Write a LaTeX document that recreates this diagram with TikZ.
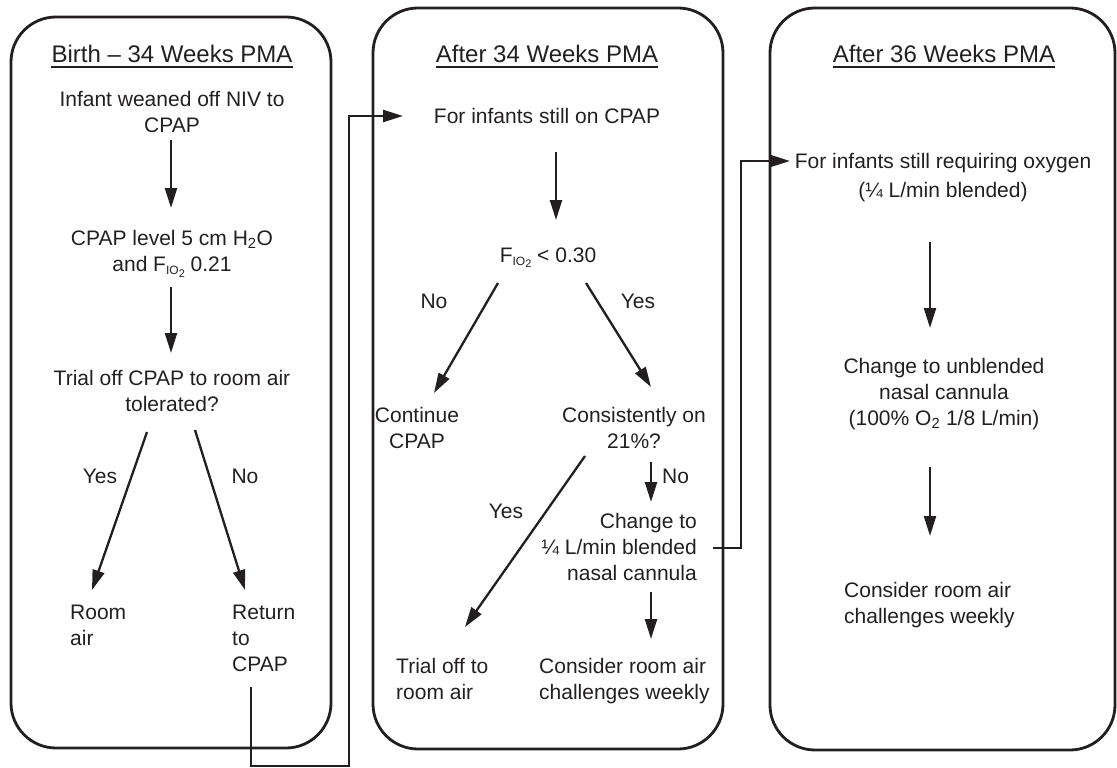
\documentclass[tikz,border=0pt]{standalone}
\usepackage{fontspec}
\setmainfont{Liberation Sans}
\usetikzlibrary{arrows.meta}
\definecolor{ink}{RGB}{35,31,32}
\newcommand\fio{F\raisebox{-0.3ex}{\fontsize{12}{12}\selectfont IO\raisebox{-0.4ex}{\fontsize{11}{11}\selectfont 2}}}
\begin{document}
\begin{tikzpicture}[x=1pt, y=-1pt,
  every node/.style={inner sep=0pt, text=ink},
  body/.style={font=\fontsize{21}{26}\selectfont},
  head/.style={font=\fontsize{24}{28}\selectfont},
  panel/.style={draw=ink, line width=2.8pt, rounded corners=45pt},
  arr/.style={draw=ink, line width=2.3pt, -{Triangle[length=20pt,width=12pt]}},
  uline/.style={draw=ink, line width=1.7pt}]
\useasboundingbox (0,0) rectangle (1117,768);
% panels
\draw[panel] (11,17) rectangle (331,748);
\draw[panel] (373,8) rectangle (723,749);
\draw[panel] (770,8) rectangle (1115,750);
% headings
\node[head, anchor=base] (h1) at (172,63) {Birth – 34 Weeks PMA};
\node[head, anchor=base] (h2) at (547,63) {After 34 Weeks PMA};
\node[head, anchor=base] (h3) at (944,63) {After 36 Weeks PMA};
\foreach \h in {h1,h2,h3}
  \draw[uline] ([yshift=-4pt]\h.base west) -- ([yshift=-4pt]\h.base east);
% panel 1
\node[body, anchor=north, align=center] (n1) at (172,91) {Infant weaned off NIV to\\CPAP};
\node[body, anchor=north, align=center] (n2) at (172,230) {CPAP level 5 cm H\textsubscript{2}O\\and \fio{} 0.21};
\node[body, anchor=north, align=center] (n3) at (172,370) {Trial off CPAP to room air\\tolerated?};
\node[body, anchor=north west, align=left] (n4) at (70,605) {Room\\air};
\node[body, anchor=north west, align=left] (n5) at (232,605) {Return\\to\\CPAP};
\node[body, anchor=base] (l1) at (100,483) {Yes};
\node[body, anchor=base] (l2) at (245,483) {No};
\coordinate (a1s) at (171,140); \coordinate (a1e) at (171,208);
\coordinate (a2s) at (171,287); \coordinate (a2e) at (171,353);
\coordinate (a3s) at (147,432); \coordinate (a3e) at (92,590);
\coordinate (a4s) at (195,430); \coordinate (a4e) at (245,590);
\draw[arr] (a1s) -- (a1e);
\draw[arr] (a2s) -- (a2e);
\draw[arr] (a3s) -- (a3e);
\draw[arr] (a4s) -- (a4e);
% panel 2
\node[body, anchor=north] (m1) at (547,108) {For infants still on CPAP};
\node[body, anchor=base] (m2) at (548,262) {\fio{} < 0.30};
\node[body, anchor=base] (l3) at (434,308) {No};
\node[body, anchor=base] (l4) at (638,308) {Yes};
\node[body, anchor=north, align=center] (m3) at (417,407) {Continue\\CPAP};
\node[body, anchor=north, align=center] (m4) at (634,407) {Consistently on\\21\%?};
\node[body, anchor=base west] (l5) at (662,483) {No};
\node[body, anchor=base] (l6) at (506,518) {Yes};
\node[body, anchor=north east, align=right] (m5) at (697,513) {Change to\\¼ L/min blended\\nasal cannula};
\node[body, anchor=north west, align=left] (m6) at (396,658) {Trial off to\\room air};
\node[body, anchor=north west, align=left] (m7) at (539,658) {Consider room air\\challenges weekly};
\coordinate (b1s) at (556,152); \coordinate (b1e) at (556,220);
\coordinate (b2s) at (498,283); \coordinate (b2e) at (434,393);
\coordinate (b3s) at (586,283); \coordinate (b3e) at (651,387);
\coordinate (b4s) at (585,456); \coordinate (b4e) at (465,627);
\coordinate (b5s) at (651,462); \coordinate (b5e) at (651,502);
\coordinate (b6s) at (651,592); \coordinate (b6e) at (651,639);
\draw[arr] (b1s) -- (b1e);
\draw[arr] (b2s) -- (b2e);
\draw[arr] (b3s) -- (b3e);
\draw[arr] (b4s) -- (b4e);
\draw[arr] (b5s) -- (b5e);
\draw[arr] (b6s) -- (b6e);
% panel 3
\node[body, font=\fontsize{21}{29}\selectfont, anchor=north, align=center] (r1) at (943,153) {For infants still requiring oxygen\\(¼ L/min blended)};
\node[body, anchor=north, align=center] (r2) at (944,358) {Change to unblended\\nasal cannula\\(100\% O\textsubscript{2} 1/8 L/min)};
\node[body, anchor=north west, align=left] (r3) at (844,582) {Consider room air\\challenges weekly};
\coordinate (c1s) at (930,242); \coordinate (c1e) at (930,328);
\coordinate (c2s) at (930,467); \coordinate (c2e) at (930,536);
\draw[arr] (c1s) -- (c1e);
\draw[arr] (c2s) -- (c2e);
% connectors between panels
\coordinate (k1s) at (251,687);
\coordinate (k1e) at (403,116);
\draw[arr] (k1s) -- (251,766) -- (349,766) -- (349,116) -- (k1e);
\coordinate (k2s) at (713,548);
\coordinate (k2e) at (790,161);
\draw[arr] (k2s) -- (741,548) -- (741,161) -- (k2e);
\end{tikzpicture}
\end{document}
